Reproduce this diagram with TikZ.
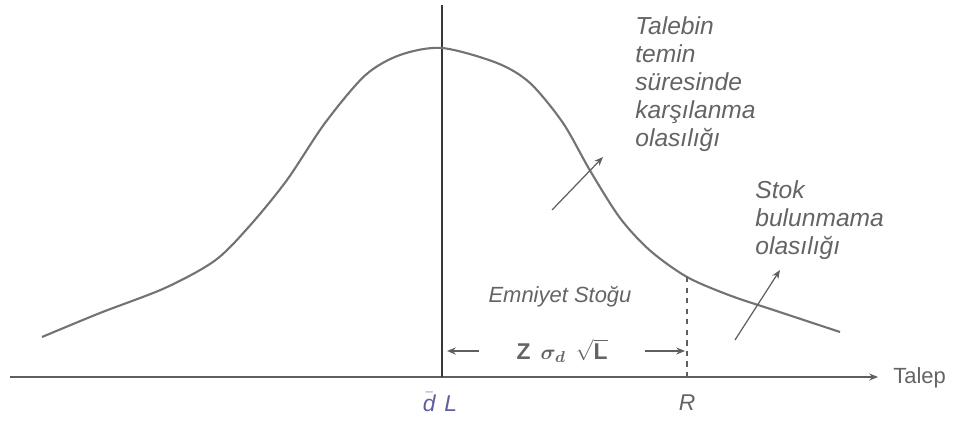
\documentclass[tikz,border=0pt]{standalone}
\usepackage{amsmath}
\usepackage{fontspec}
\setmainfont{Liberation Sans}
\usepackage{tikz}
\usetikzlibrary{arrows.meta,positioning}
\definecolor{CurveGray}{RGB}{115,115,115}
\definecolor{AxisGray}{RGB}{95,95,95}
\definecolor{LineDark}{RGB}{55,55,55}
\definecolor{TextGray}{RGB}{100,100,100}
\definecolor{MeanBlue}{RGB}{95,95,160}

\begin{document}
\begin{tikzpicture}[
note/.style={
text=TextGray,
font=\fontsize{14}{16}\selectfont\itshape,
align=left,
anchor=west,
inner sep=0pt
},
pointer/.style={
draw=AxisGray,
line width=0.7pt,
-{Stealth[length=5pt,width=4pt]}
},
tick/.style={
text=TextGray,
font=\fontsize{13}{15}\selectfont\itshape
}
]
\useasboundingbox (0,0) rectangle (19.2,8.46);

% axes
\coordinate (o) at (0.2,0.92);
\coordinate (xend) at (17.56,0.92);
\coordinate (top) at (8.84,8.36);
\coordinate (mean) at (8.84,0.92);
\draw[AxisGray,line width=1pt,-{Stealth[length=5pt,width=4pt]}] (o) -- (xend);
\draw[LineDark,line width=1.1pt] (mean) -- (top);
\node[text=TextGray,font=\fontsize{12.5}{14}\selectfont,anchor=west,inner sep=0pt] (talep) at (17.86,0.9) {Talep};

% demand curve
\draw[CurveGray,line width=1.2pt] plot[smooth] coordinates {
(0.84,1.72) (2.0,2.2) (3.3,2.7) (4.3,3.25) (5.0,3.95) (5.74,4.86)
(6.5,6.0) (7.3,6.95) (8.0,7.36) (8.84,7.5) (9.94,7.2) (10.6,6.8)
(11.26,6.0) (11.8,5.05) (12.4,4.1) (13.0,3.45) (13.74,2.92) (14.6,2.55)
(15.5,2.25) (16.8,1.82)};

% reorder point
\coordinate (rtop) at (13.74,2.92);
\coordinate (rbot) at (13.74,0.92);
\draw[AxisGray,dashed,line width=0.8pt] (rtop) -- (rbot);
\node[tick] (rlab) at (13.74,0.4) {R};
\node[tick,text=MeanBlue] (dlab) at (8.8,0.42) {$\bar{\text{\itshape d}}$\hspace{5pt}L};

% safety stock
\node[text=TextGray,font=\fontsize{12.5}{14}\selectfont\itshape] (ss) at (11.2,2.52) {Emniyet Sto\u{g}u};
\node[text=TextGray,font=\fontsize{13}{15}\selectfont\bfseries,minimum width=3.3cm,inner sep=0pt] (zlab) at (11.24,1.44) {Z\, $\boldsymbol{\sigma_d}$\, $\sqrt{\textbf{L}}$};
\coordinate (zl) at (8.94,1.44);
\coordinate (zr) at (13.7,1.44);
\draw[pointer] (zlab.west) -- (zl);
\draw[pointer] (zlab.east) -- (zr);

% probabilities
\node[note] (serv) at (12.7,6.78) {Talebin\\temin\\süresinde\\karşılanma\\olasılığı};
\node[note] (out) at (15.1,4.06) {Stok\\bulunmama\\olasılığı};
\coordinate (a1) at (11.04,4.26);
\coordinate (b1) at (12.06,5.32);
\coordinate (a2) at (14.7,1.66);
\coordinate (b2) at (15.6,3.06);
\draw[pointer] (a1) -- (b1);
\draw[pointer] (a2) -- (b2);

\end{tikzpicture}
\end{document}
